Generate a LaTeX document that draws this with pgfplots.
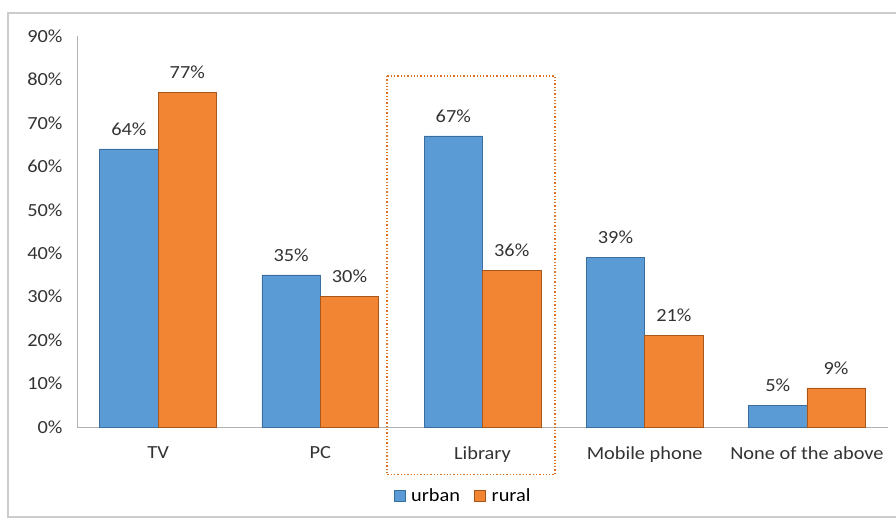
\documentclass[border=0pt]{standalone}
\usepackage{fontspec}
\setmainfont[FakeStretch=1.1]{Carlito}
\usepackage{pgfplots}
\pgfplotsset{compat=1.18}
\definecolor{urbanblue}{HTML}{5B9BD5}
\definecolor{urbanedge}{HTML}{3A6E9E}
\definecolor{ruralorange}{HTML}{F28534}
\definecolor{ruraledge}{HTML}{A9561B}
\definecolor{txt}{HTML}{333333}
\definecolor{hilite}{HTML}{E07020}
\begin{document}
\begin{tikzpicture}[x=1pt,y=1pt,font=\fontsize{18.5}{22}\selectfont\color{txt}]
\useasboundingbox (0,0) rectangle (896,520);
% chart frame
\draw[gray!40, line width=1.6pt] (8,3) rectangle (902,507);
\begin{axis}[
  at={(77pt,93pt)}, anchor=south west,
  width=811pt, height=391pt, scale only axis,
  /pgf/number format/assume math mode=true,
  ybar=0pt, bar width=58.4pt,
  xmin=-0.5, xmax=4.5, ymin=0, ymax=90,
  xtick=data,
  xticklabels={TV,PC,Library,Mobile phone,None of the above},
  ytick={0,10,...,90},
  yticklabel={\pgfmathprintnumber{\tick}\%},
  axis lines*=left,
  axis line style={gray!60, line width=0.8pt},
  major tick length=0pt,
  tick label style={font=\fontsize{18.5}{22}\selectfont, text=txt},
  xticklabel style={yshift=-16pt},
  yticklabel style={xshift=-11pt},
  nodes near coords={\pgfmathprintnumber{\pgfplotspointmeta}\%},
  nodes near coords style={font=\fontsize{18.5}{22}\selectfont, text=txt, yshift=10pt},
  clip=false,
  legend style={at={(axis description cs:0.476,-0.176)}, anchor=center,
    draw=none, fill=none, legend columns=2,
    font=\fontsize{18.5}{22}\selectfont,
    /tikz/every odd column/.append style={column sep=4pt},
    /tikz/every even column/.append style={column sep=12pt}},
  legend image code/.code={\draw[#1, line width=0.6pt] (0pt,-5pt) rectangle (11pt,6pt);},
]
\addplot[fill=urbanblue, draw=urbanedge, line width=0.8pt] coordinates {(0,64) (1,35) (2,67) (3,39) (4,5)};
\addlegendentry{urban}
\addplot[fill=ruralorange, draw=ruraledge, line width=0.8pt] coordinates {(0,77) (1,30) (2,36) (3,21) (4,9)};
\addlegendentry{rural}
% highlight around the Library group
\draw[hilite, dotted, line width=1.3pt] (axis cs:1.411,80.8) rectangle (axis cs:2.447,-11);
\end{axis}
\end{tikzpicture}
\end{document}
